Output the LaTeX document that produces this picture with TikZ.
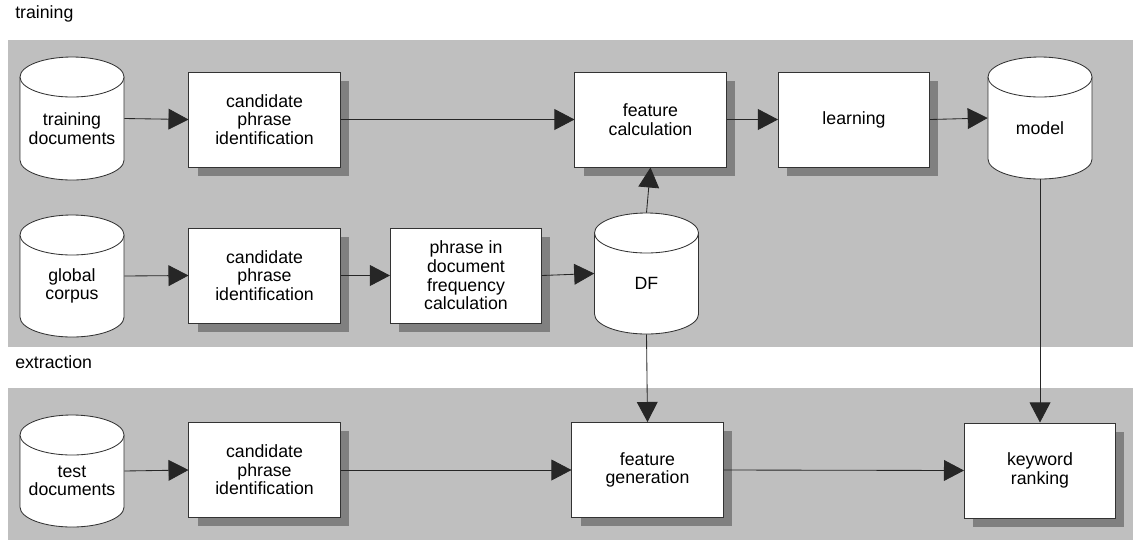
\documentclass[tikz,border=0pt]{standalone}
\usepackage{fontspec}
\setmainfont{Liberation Sans}
\usepackage{tikz}
\usetikzlibrary{arrows.meta,shadows}

% drum (data store): name, x, y, height in px, text
\newcommand{\dbdrum}[5]{%
  \filldraw[drumline] (#2,#3) ++(-52,-#4/2+20) -- ++(0,#4-40)
    arc[start angle=180, end angle=360, x radius=1.3cm, y radius=0.5cm]
    -- ++(0,-#4+40)
    arc[start angle=0, end angle=180, x radius=1.3cm, y radius=0.5cm] -- cycle;
  \draw[drumline] (#2,#3) ++(-52,-#4/2+20)
    arc[start angle=180, end angle=360, x radius=1.3cm, y radius=0.5cm];
  \node[drum, minimum height=#4*0.025cm] (#1) at (#2,#3) {};
  \node[txt] (#1-t) at ([yshift=-0.25cm]#1.center) {#5};
}

\begin{document}
\begin{tikzpicture}[x=0.025cm, y=-0.025cm, font=\fontsize{12.6}{13.2}\selectfont]

\tikzstyle{band} = [fill=black!25, draw=none]
\tikzstyle{box} = [draw=black!80, line width=0.7pt, fill=white, rectangle, minimum width=3.775cm, minimum height=2.375cm, align=center, drop shadow={shadow xshift=0.22cm, shadow yshift=-0.22cm, fill=black!50, opacity=1}]
\tikzstyle{drumline} = [draw=black!80, line width=0.6pt, fill=white]
\tikzstyle{drum} = [draw=none, rectangle, minimum width=2.6cm, inner sep=0pt]
\tikzstyle{txt} = [align=center, inner sep=0pt]
\tikzstyle{flow} = [draw=black!85, line width=0.6pt, -{Triangle[length=0.5cm, width=0.52cm]}]

\useasboundingbox (0,0) rectangle (1133,542);

% Bands
\fill[band] (8,40) rectangle (1133,347);
\fill[band] (8,388) rectangle (1133,540);
\node[txt, anchor=base west] (lbltrain) at (15,18) {training};
\node[txt, anchor=base west] (lblextract) at (15,368) {extraction};

% Training row 1
\dbdrum{traindocs}{72}{118.5}{123}{training\\documents}
\node[box] (cand1) at (264.5,119.5) {candidate\\phrase\\identification};
\node[box] (featcalc) at (650.5,119.5) {feature\\calculation};
\node[box] (learn) at (854,119.5) {learning};
\dbdrum{model}{1040}{118}{122}{model}

% Training row 2
\dbdrum{corpus}{72}{276}{122}{global\\corpus}
\node[box] (cand2) at (264.5,275.5) {candidate\\phrase\\identification};
\node[box] (dfcalc) at (466,275.5) {phrase in\\document\\frequency\\calculation};
\dbdrum{df}{646.5}{273.5}{121}{DF}

% Extraction row
\dbdrum{testdocs}{72}{471}{112}{test\\documents}
\node[box] (cand3) at (264.5,470) {candidate\\phrase\\identification};
\node[box] (featgen) at (647.5,470) {feature\\generation};
\node[box] (rank) at (1040,470.5) {keyword\\ranking};

% Connectors
\draw[flow] (traindocs.east) -- (cand1.west);
\draw[flow] (cand1.east) -- (featcalc.west);
\draw[flow] (featcalc.east) -- (learn.west);
\draw[flow] (learn.east) -- (model.west);
\draw[flow] (corpus.east) -- (cand2.west);
\draw[flow] (cand2.east) -- (dfcalc.west);
\draw[flow] (dfcalc.east) -- (df.west);
\draw[flow] (df.north) -- (featcalc.south);
\draw[flow] (df.south) -- (featgen.north);
\draw[flow] (model.south) -- (rank.north);
\draw[flow] (testdocs.east) -- (cand3.west);
\draw[flow] (cand3.east) -- (featgen.west);
\draw[flow] (featgen.east) -- (rank.west);

\end{tikzpicture}
\end{document}
